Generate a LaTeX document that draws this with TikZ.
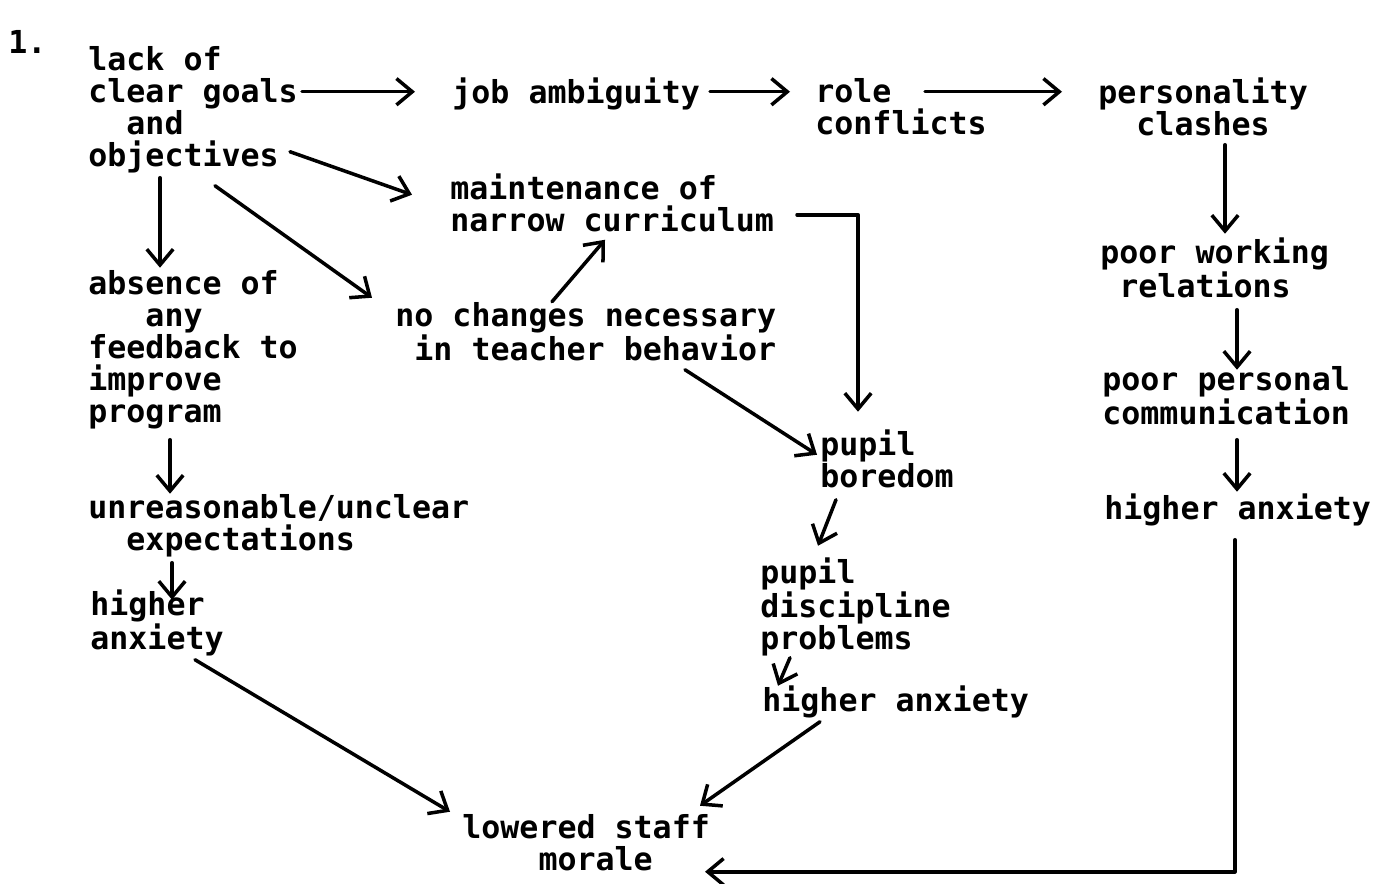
\documentclass[tikz,border=0pt]{standalone}
\usepackage{fontspec}
\setmonofont{DejaVu Sans Mono}
\usetikzlibrary{arrows.meta}

\tikzset{
  txt/.style={anchor=north west, inner sep=0pt, align=left, yshift=-0.035cm,
    font=\ttfamily\bfseries\fontsize{18}{18.2}\selectfont,
    execute at begin node={\rule{0pt}{14.5pt}}},
  flow/.style={line width=2pt, line cap=round, line join=round,
    -{Straight Barb[length=9pt,width=15pt,line width=2pt]}}
}

\begin{document}
\begin{tikzpicture}[x=0.02cm, y=-0.02cm]
\useasboundingbox (0,0) rectangle (1378,884);

% text blocks
\node[txt] (num) at (8,26) {1.};
\node[txt] (goals) at (88,44) {lack of\\clear goals\\\ \ and\\objectives};
\node[txt] (ambiguity) at (452,76) {job ambiguity};
\node[txt] (conflicts) at (815,76) {role\\conflicts};
\node[txt] (clashes) at (1098,76) {personality\\\ \ clashes};
\node[txt] (curriculum) at (450,172) {maintenance of\\narrow curriculum};
\node[txt] (feedback) at (88,268) {absence of\\\ \ \ any\\feedback to\\improve\\program};
\node[txt] (nochange) at (395,300) {no changes necessary\\\ in teacher behavior};
\node[txt] (working) at (1100,236) {poor working\\\ relations};
\node[txt] (communication) at (1102,364) {poor personal\\communication};
\node[txt] (boredom) at (820,428) {pupil\\boredom};
\node[txt] (anxR) at (1104,492) {higher anxiety};
\node[txt] (expect) at (88,492) {unreasonable/unclear\\\ \ expectations};
\node[txt] (anxL) at (90,588) {higher\\anxiety};
\node[txt] (discipline) at (760,556) {pupil\\discipline\\problems};
\node[txt] (anxM) at (762,684) {higher anxiety};
\node[txt] (morale) at (462,812) {lowered staff\\\ \ \ \ morale};

% top row
\draw[flow] ([shift={(214,46)}]goals.north west) -- ([shift={(-37,14)}]ambiguity.north west);
\draw[flow] ([shift={(258,14)}]ambiguity.north west) -- ([shift={(-25,14)}]conflicts.north west);
\draw[flow] ([shift={(110,14)}]conflicts.north west) -- ([shift={(-36,14)}]clashes.north west);

% from the goals
\draw[flow] ([shift={(202,106)}]goals.north west) -- ([shift={(-38,21)}]curriculum.north west);
\draw[flow] ([shift={(127,140)}]goals.north west) -- ([shift={(-23,-4)}]nochange.north west);
\draw[flow] ([shift={(72,132)}]goals.north west) -- ([shift={(72,-2)}]feedback.north west);

% right column
\draw[flow] ([shift={(127,67)}]clashes.north west) -- ([shift={(125,-4)}]working.north west);
\draw[flow] ([shift={(137,72)}]working.north west) -- ([shift={(135,4)}]communication.north west);
\draw[flow] ([shift={(135,74)}]communication.north west) -- ([shift={(133,-2)}]anxR.north west);

% middle
\draw[flow] ([shift={(157,0)}]nochange.north west) -- ([shift={(155,66)}]curriculum.north west);
\draw[flow] ([shift={(347,41)}]curriculum.north west) -| ([shift={(38,-18)}]boredom.north west);
\draw[flow] ([shift={(290,68)}]nochange.north west) -- ([shift={(-3,25)}]boredom.north west);
\draw[flow] ([shift={(16,70)}]boredom.north west) -- ([shift={(58,-12)}]discipline.north west);
\draw[flow] ([shift={(30,100)}]discipline.north west) -- ([shift={(16,0)}]anxM.north west);

% left column
\draw[flow] ([shift={(82,170)}]feedback.north west) -- ([shift={(82,0)}]expect.north west);
\draw[flow] ([shift={(84,69)}]expect.north west) -- ([shift={(82,10)}]anxL.north west);

% into morale
\draw[flow] ([shift={(105,70)}]anxL.north west) -- ([shift={(-12,-2)}]morale.north west);
\draw[flow] ([shift={(58,36)}]anxM.north west) -- ([shift={(238,-8)}]morale.north west);
\draw[flow] ([shift={(131,46)}]anxR.north west) |- ([shift={(243,58)}]morale.north west);
\end{tikzpicture}
\end{document}
